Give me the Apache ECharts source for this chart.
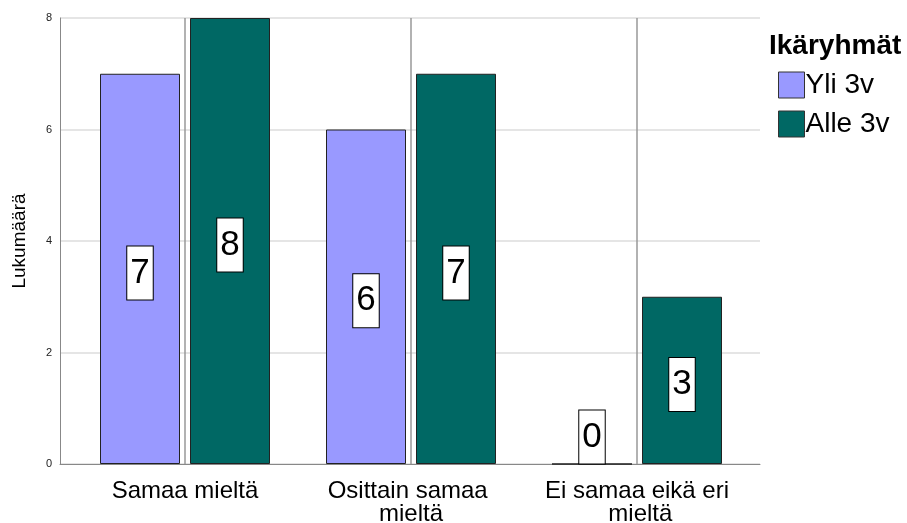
<!DOCTYPE html>
<html><head><meta charset="utf-8">
<script src="https://cdn.jsdelivr.net/npm/echarts@6/dist/echarts.min.js"></script>
<style>html,body{margin:0;padding:0;background:#fff}#c{width:907px;height:523px}</style>
</head><body><div id="c"></div>
<script>
const categories = ['Samaa mieltä', 'Osittain samaa mieltä', 'Ei samaa eikä eri mieltä'];
const seriesNames = ['Yli 3v', 'Alle 3v'];
const yli3v = [7, 6, 0];
const alle3v = [8, 7, 3];
const yTicks = [0, 2, 4, 6, 8];
const legendTitle = 'Ikäryhmät';
const yName = 'Lukumäärä';

const colors = ['#9999ff', '#006864'];
const FONT = 'Liberation Sans, Arial, sans-serif';

function mkData(arr) {
  return arr.map(v => v === 0
    ? { value: v, label: { position: 'top', offset: [0, 0], distance: 0 } }
    : v);
}
function mkSeries(name, arr, i) {
  return {
    name: name, type: 'bar', xAxisIndex: 1, yAxisIndex: 1,
    data: mkData(arr),
    barWidth: 80, barGap: '12.5%',
    itemStyle: { color: colors[i], borderColor: '#222', borderWidth: 1 },
    label: {
      show: true, position: 'inside', offset: [0, 4],
      fontFamily: FONT, fontSize: 35, color: '#000',
      backgroundColor: '#fff', borderColor: '#000', borderWidth: 1,
      lineHeight: 40, padding: [7, 3, 6, 3]
    }
  };
}

const chart = echarts.init(document.getElementById('c'), null, { renderer: 'canvas' });
chart.setOption({
  animation: false,
  textStyle: { fontFamily: FONT },
  title: {
    text: legendTitle, left: 769, top: 32, padding: 0,
    textStyle: { fontFamily: FONT, fontSize: 28, fontWeight: 'bold', color: '#000' }
  },
  legend: {
    orient: 'vertical', left: 778, top: 71, padding: 0,
    itemWidth: 26, itemHeight: 26, itemGap: 11,
    icon: 'rect',
    textStyle: { fontFamily: FONT, fontSize: 28, color: '#000', lineHeight: 26, padding: [0, 0, 0, -4] },
    itemStyle: { borderColor: '#333', borderWidth: 1 },
    data: seriesNames
  },
  grid: [
    { left: 60, right: 147, top: 18, bottom: 59, outerBoundsMode: 'none', containLabel: false },
    { left: 72, right: 157, top: 18, bottom: 59, outerBoundsMode: 'none', containLabel: false }
  ],
  xAxis: [
    { gridIndex: 0, type: 'value', min: 0, max: 1,
      axisLine: { show: true, lineStyle: { color: '#888', width: 1 } },
      axisTick: { show: false }, axisLabel: { show: false }, splitLine: { show: false } },
    { gridIndex: 1, type: 'category', data: categories,
      axisLine: { show: false }, axisTick: { show: false },
      axisLabel: { interval: 0, fontFamily: FONT, fontSize: 24, color: '#000', margin: 16,
        width: 200, overflow: 'break', lineHeight: 23 },
      splitLine: { show: true, interval: 0, alignWithLabel: true, lineStyle: { color: '#999', width: 1.5 } } }
  ],
  yAxis: [
    { gridIndex: 0, type: 'value', min: yTicks[0], max: yTicks[yTicks.length - 1], interval: 2,
      name: yName, nameLocation: 'middle', nameGap: 31, nameRotate: 90,
      nameTextStyle: { fontFamily: FONT, fontSize: 19, color: '#000' },
      axisLine: { show: true, lineStyle: { color: '#888' } },
      axisTick: { show: false },
      axisLabel: { fontFamily: FONT, fontSize: 11, color: '#222', margin: 8 },
      splitLine: { show: true, lineStyle: { color: '#ddd', width: 1.5 } } },
    { gridIndex: 1, type: 'value', min: 0, max: 8, interval: 2, show: false,
      splitLine: { show: false } }
  ],
  series: [
    mkSeries(seriesNames[0], yli3v, 0),
    mkSeries(seriesNames[1], alle3v, 1)
  ]
});
</script></body></html>
